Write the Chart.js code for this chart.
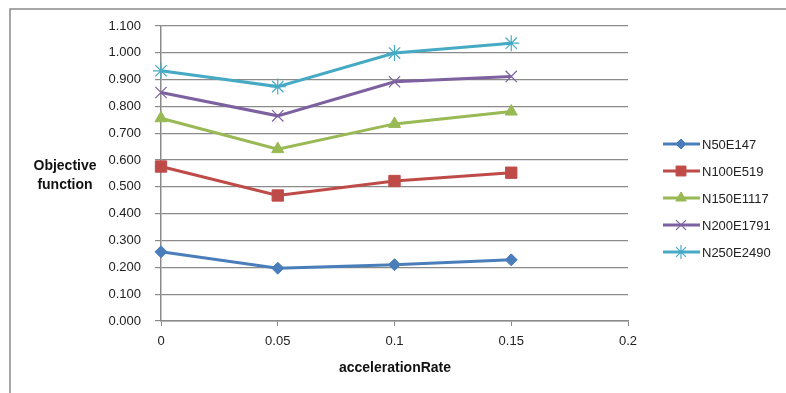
<!DOCTYPE html>
<html>
<head>
<meta charset="utf-8">
<script src="https://cdn.jsdelivr.net/npm/chart.js@4.4.0/dist/chart.umd.min.js"></script>
<style>
  html, body { margin: 0; padding: 0; background: #fff; }
  #wrap { position: relative; width: 786px; height: 393px; }
</style>
</head>
<body>
<div id="wrap"><canvas id="chart" width="786" height="393"></canvas></div>
<script>
// === DATA ===
const accelerationRate = [0, 0.05, 0.1, 0.15];
const xTickLabels = ['0', '0.05', '0.1', '0.15', '0.2'];
const seriesNames = ['N50E147', 'N100E519', 'N150E1117', 'N200E1791', 'N250E2490'];
const n50 = [0.258, 0.197, 0.210, 0.228];
const n100 = [0.576, 0.468, 0.522, 0.553];
const n150 = [0.756, 0.641, 0.735, 0.781];
const n200 = [0.852, 0.765, 0.892, 0.912];
const n250 = [0.933, 0.874, 0.999, 1.036];

// === STYLE ===
const colors = ['#4A7EBB', '#BE4B48', '#98B954', '#7D60A0', '#46AAC5'];
const markers = ['rectRot', 'rect', 'triangle', 'crossRot', 'star'];
const markerSize = [6, 8, 7, 8, 8];
const tickFont = { family: 'Liberation Sans', size: 13 };

function makeSet(i, values) {
  const isThin = markers[i] === 'crossRot' || markers[i] === 'star';
  return {
    label: seriesNames[i],
    data: accelerationRate.map(function(x, k) { return { x: x, y: values[k] }; }),
    borderColor: colors[i],
    backgroundColor: colors[i],
    borderWidth: 3,
    pointStyle: markers[i],
    pointRadius: markerSize[i],
    pointBorderWidth: isThin ? 1.2 : 1,
    pointBorderColor: colors[i],
    pointBackgroundColor: colors[i],
    tension: 0,
    clip: false
  };
}

// frame, axis titles and legend
const decor = {
  id: 'decor',
  beforeDraw: function(chart) {
    const ctx = chart.ctx;
    ctx.save();
    ctx.strokeStyle = '#8a8a8a';
    ctx.lineWidth = 1.5;
    ctx.beginPath();
    ctx.moveTo(10, 393);
    ctx.lineTo(10, 9);
    ctx.lineTo(786, 9);
    ctx.stroke();
    ctx.restore();
  },
  afterDraw: function(chart) {
    const ctx = chart.ctx;
    ctx.save();
    ctx.fillStyle = '#111';
    ctx.font = 'bold 14px "Liberation Sans"';
    ctx.textAlign = 'center';
    ctx.textBaseline = 'middle';
    ctx.fillText('Objective', 65, 166);
    ctx.fillText('function', 65, 185);
    ctx.fillText('accelerationRate', 395, 368);

    // legend
    ctx.font = '13px "Liberation Sans"';
    ctx.textAlign = 'left';
    chart.data.datasets.forEach(function(ds, i) {
      const y = 144 + i * 27;
      ctx.strokeStyle = ds.borderColor;
      ctx.lineWidth = 3;
      ctx.beginPath();
      ctx.moveTo(663, y);
      ctx.lineTo(700, y);
      ctx.stroke();
      ctx.lineWidth = ds.pointBorderWidth;
      ctx.fillStyle = ds.pointBackgroundColor;
      Chart.helpers.drawPoint(ctx, { pointStyle: ds.pointStyle, radius: ds.pointRadius - 1, borderWidth: ds.pointBorderWidth }, 681, y);
      ctx.fillStyle = '#222';
      ctx.fillText(ds.label, 702, y + 1);
    });
    ctx.restore();
  }
};

new Chart(document.getElementById('chart'), {
  type: 'line',
  data: {
    datasets: [makeSet(0, n50), makeSet(1, n100), makeSet(2, n150), makeSet(3, n200), makeSet(4, n250)]
  },
  options: {
    responsive: false,
    animation: false,
    layout: { padding: { left: 0, right: 158, top: 26, bottom: 0 } },
    plugins: {
      legend: { display: false },
      tooltip: { enabled: false }
    },
    scales: {
      x: {
        type: 'linear',
        min: 0,
        max: 0.2,
        afterFit: function(scale) { scale.height = 72; },
        afterBuildTicks: function(scale) {
          scale.ticks = xTickLabels.map(function(t) { return { value: parseFloat(t) }; });
        },
        ticks: {
          font: tickFont,
          color: '#222',
          padding: 8,
          maxRotation: 0,
          callback: function(value, index) { return xTickLabels[index]; }
        },
        grid: { drawOnChartArea: false, drawTicks: true, tickLength: 5, color: '#8a8a8a' },
        border: { color: '#8a8a8a', width: 1.5 }
      },
      y: {
        min: 0,
        max: 1.1,
        afterFit: function(scale) { scale.width = 161; },
        ticks: {
          stepSize: 0.1,
          font: tickFont,
          color: '#222',
          padding: 14,
          callback: function(value) { return value.toFixed(3); }
        },
        grid: { color: '#8a8a8a', lineWidth: 1.2, tickLength: 6 },
        border: { color: '#8a8a8a', width: 1.5 }
      }
    }
  },
  plugins: [decor]
});
</script>
</body>
</html>
